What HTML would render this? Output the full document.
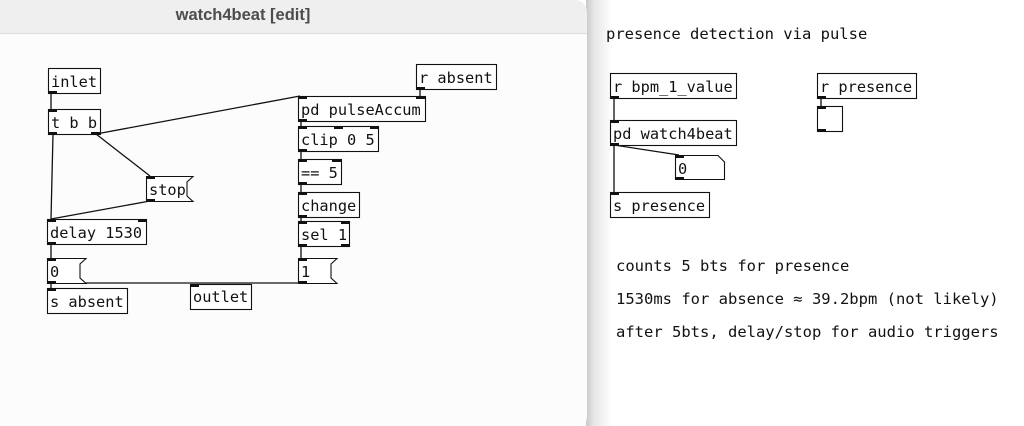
<!DOCTYPE html>
<html><head><meta charset="utf-8"><style>
html,body{margin:0;padding:0;width:1024px;height:426px;overflow:hidden;background:#fff;}
svg{display:block;}
text.m{font-family:"DejaVu Sans Mono","Liberation Mono",monospace;font-size:15.3px;fill:#111;}
text.c{font-family:"DejaVu Sans Mono","Liberation Mono",monospace;font-size:15.5px;fill:#111;}
</style></head><body>
<svg width="1024" height="426" viewBox="0 0 1024 426" xmlns="http://www.w3.org/2000/svg">
<defs>
<linearGradient id="sh" x1="0" x2="1" y1="0" y2="0">
<stop offset="0" stop-color="#c8c8c8"/><stop offset="0.3" stop-color="#e6e6e6"/><stop offset="1" stop-color="#ffffff"/>
</linearGradient>
</defs>
<rect x="0" y="0" width="1024" height="426" fill="#fff"/>
<rect x="586" y="0" width="26" height="426" fill="url(#sh)"/>
<path d="M0 0 H573 Q587 0 587 14 V416 Q587 426 577 426 H0 Z" fill="#fcfcfc"/>
<path d="M0 0 H573 Q587 0 587 14 V33 H0 Z" fill="#efefef"/>
<line x1="0" y1="33.5" x2="587" y2="33.5" stroke="#dedede"/>
<text x="243" y="20" text-anchor="middle" font-family="Liberation Sans,sans-serif" font-weight="bold" font-size="16.5" fill="#4d4d4d">watch4beat [edit]</text>

<g stroke="#111" stroke-width="1.3" fill="none">
<line x1="51" y1="93" x2="51" y2="109"/>
<line x1="53" y1="134" x2="51" y2="219"/>
<line x1="96" y1="134" x2="150" y2="176"/>
<line x1="96" y1="134" x2="300" y2="96"/>
<line x1="150" y1="201" x2="51" y2="219"/>
<line x1="420" y1="90" x2="420" y2="96"/>
<line x1="301" y1="121" x2="301" y2="126"/>
<line x1="301" y1="152" x2="301" y2="159"/>
<line x1="301" y1="185" x2="301" y2="192"/>
<line x1="301" y1="218" x2="301" y2="221"/>
<line x1="301" y1="246" x2="301" y2="258"/>
<line x1="51" y1="244" x2="51" y2="258"/>
<line x1="51" y1="283" x2="51" y2="288"/>
<line x1="51" y1="283" x2="300" y2="283"/>
<line x1="614" y1="98" x2="614" y2="120"/>
<line x1="614" y1="145" x2="614" y2="192"/>
<line x1="614" y1="145" x2="679" y2="155"/>
<line x1="821" y1="98" x2="821" y2="106"/>
</g>

<g stroke="#111" stroke-width="1.1" fill="#fff">
<rect x="48.5" y="68.5" width="52" height="25"/>
<rect x="48.5" y="109.5" width="52" height="25"/>
<rect x="416.5" y="64.5" width="80" height="25"/>
<rect x="298.5" y="96.5" width="127" height="25"/>
<rect x="298.5" y="126.5" width="80" height="25"/>
<rect x="298.5" y="159.5" width="43" height="25"/>
<rect x="298.5" y="192.5" width="61" height="25"/>
<rect x="298.5" y="221.5" width="51" height="25"/>
<path d="M298.5 258.5 H337 L331 264 V278 L337 283.5 H298.5 Z"/>
<path d="M146.5 176.5 H193 L187 182 V196 L193 201.5 H146.5 Z"/>
<rect x="47.5" y="219.5" width="99" height="25"/>
<path d="M47.5 258.5 H86 L80 264 V278 L86 283.5 H47.5 Z"/>
<rect x="47.5" y="288.5" width="80" height="25"/>
<rect x="190.5" y="284.5" width="61" height="25"/>
<rect x="610.5" y="73.5" width="126" height="25"/>
<rect x="610.5" y="120.5" width="126" height="25"/>
<path d="M675.5 155.5 H718 L724.5 162 V179.5 H675.5 Z"/>
<rect x="610.5" y="192.5" width="99" height="25"/>
<rect x="817.5" y="73.5" width="99" height="25"/>
<rect x="817.5" y="106.5" width="25" height="25"/>
</g>

<g fill="#111">
<rect x="48" y="91" width="9" height="3"/>
<rect x="48" y="109" width="9" height="3"/><rect x="48" y="132" width="9" height="3"/><rect x="91" y="132" width="10" height="3"/>
<rect x="416" y="87" width="9" height="3"/>
<rect x="298" y="96" width="9" height="3"/><rect x="416" y="96" width="10" height="3"/><rect x="298" y="119" width="9" height="3"/>
<rect x="298" y="126" width="9" height="3"/><rect x="334" y="126" width="9" height="3"/><rect x="370" y="126" width="9" height="3"/><rect x="298" y="149" width="9" height="3"/>
<rect x="298" y="159" width="9" height="3"/><rect x="332" y="159" width="9" height="3"/><rect x="298" y="182" width="9" height="3"/>
<rect x="298" y="192" width="9" height="3"/><rect x="298" y="215" width="9" height="3"/>
<rect x="298" y="221" width="9" height="3"/><rect x="341" y="221" width="9" height="3"/><rect x="298" y="244" width="9" height="3"/><rect x="341" y="244" width="9" height="3"/>
<rect x="298" y="258" width="9" height="3"/><rect x="298" y="281" width="9" height="3"/>
<rect x="146" y="176" width="9" height="3"/><rect x="146" y="199" width="9" height="3"/>
<rect x="47" y="219" width="9" height="3"/><rect x="138" y="219" width="9" height="3"/><rect x="47" y="242" width="9" height="3"/>
<rect x="47" y="258" width="9" height="3"/><rect x="47" y="281" width="9" height="3"/>
<rect x="47" y="288" width="9" height="3"/>
<rect x="190" y="284" width="9" height="3"/>
<rect x="610" y="96" width="9" height="3"/>
<rect x="610" y="120" width="9" height="3"/><rect x="610" y="143" width="9" height="3"/>
<rect x="675" y="155" width="9" height="3"/><rect x="675" y="177" width="9" height="3"/>
<rect x="610" y="192" width="9" height="3"/>
<rect x="817" y="96" width="9" height="3"/>
<rect x="817" y="106" width="9" height="3"/><rect x="817" y="129" width="9" height="3"/>
</g>

<g>
<text class="m" x="51" y="87">inlet</text>
<text class="m" x="51" y="128">t b b</text>
<text class="m" x="419" y="83">r absent</text>
<text class="m" x="301" y="115">pd pulseAccum</text>
<text class="m" x="301" y="145">clip 0 5</text>
<text class="m" x="301" y="178">== 5</text>
<text class="m" x="301" y="211">change</text>
<text class="m" x="301" y="240">sel 1</text>
<text class="m" x="301" y="277">1</text>
<text class="m" x="149" y="195">stop</text>
<text class="m" x="50" y="238">delay 1530</text>
<text class="m" x="50" y="277">0</text>
<text class="m" x="50" y="307">s absent</text>
<text class="m" x="193" y="302">outlet</text>
<text class="m" x="613" y="92">r bpm_1_value</text>
<text class="m" x="613" y="139">pd watch4beat</text>
<text class="m" x="678" y="174">0</text>
<text class="m" x="613" y="211">s presence</text>
<text class="m" x="820" y="92">r presence</text>
<text class="c" x="606" y="39">presence detection via pulse</text>
<text class="c" x="616" y="271">counts 5 bts for presence</text>
<text class="c" x="616" y="304">1530ms for absence ≈ 39.2bpm (not likely)</text>
<text class="c" x="616" y="337">after 5bts, delay/stop for audio triggers</text>
</g>
</svg>
</body></html>
